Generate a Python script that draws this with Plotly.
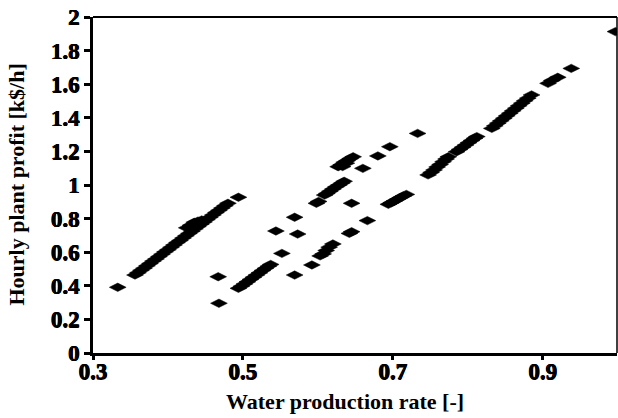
import plotly.graph_objects as go

# Water production rate [-]
water_rate = [
    0.333,
    0.356, 0.360, 0.364, 0.368, 0.372, 0.376, 0.380, 0.384, 0.388, 0.392,
    0.396, 0.400, 0.404, 0.408, 0.412, 0.416, 0.420, 0.424, 0.428, 0.432,
    0.436, 0.440, 0.444, 0.448, 0.452, 0.456, 0.460, 0.464, 0.468, 0.472,
    0.476, 0.480,
    0.425, 0.430, 0.435, 0.440, 0.445, 0.438,
    0.494,
    0.467, 0.468,
    0.494, 0.498, 0.502, 0.506, 0.510, 0.514, 0.518, 0.522, 0.526, 0.530, 0.534, 0.537,
    0.552, 0.544, 0.569, 0.573, 0.569, 0.592,
    0.603, 0.607, 0.611, 0.615, 0.620,
    0.642, 0.645, 0.666,
    0.694, 0.698, 0.702, 0.706, 0.710, 0.714, 0.718,
    0.645,
    0.598, 0.601, 0.609, 0.612, 0.616, 0.620, 0.624, 0.628, 0.632, 0.635,
    0.627, 0.631, 0.635, 0.639, 0.643, 0.647, 0.633, 0.638,
    0.660, 0.680, 0.696, 0.733,
    0.747, 0.751, 0.755, 0.759, 0.763, 0.767, 0.771, 0.774,
    0.785, 0.789, 0.793, 0.797, 0.801, 0.805, 0.809, 0.812,
    0.832, 0.836, 0.840, 0.844, 0.848, 0.852, 0.856, 0.860, 0.864, 0.868,
    0.872, 0.876, 0.880, 0.885,
    0.907, 0.912, 0.920, 0.938, 0.997,
]

# Hourly plant profit [k$/h]
profit = [
    0.391,
    0.464, 0.478, 0.492, 0.505, 0.519, 0.533, 0.547, 0.560, 0.574, 0.588,
    0.602, 0.615, 0.629, 0.643, 0.657, 0.670, 0.684, 0.698, 0.712, 0.725,
    0.739, 0.753, 0.767, 0.780, 0.794, 0.808, 0.822, 0.836, 0.849, 0.863,
    0.877, 0.891,
    0.745, 0.760, 0.778, 0.785, 0.792, 0.770,
    0.927,
    0.454, 0.296,
    0.385, 0.398, 0.411, 0.424, 0.438, 0.451, 0.464, 0.477, 0.491, 0.504, 0.517, 0.527,
    0.593, 0.726, 0.808, 0.708, 0.464, 0.524,
    0.578, 0.590, 0.610, 0.630, 0.649,
    0.712, 0.722, 0.788,
    0.885, 0.895, 0.905, 0.915, 0.925, 0.935, 0.944,
    0.891,
    0.891, 0.902, 0.940, 0.950, 0.963, 0.976, 0.989, 1.000, 1.012, 1.022,
    1.109, 1.120, 1.135, 1.145, 1.157, 1.168, 1.110, 1.130,
    1.099, 1.173, 1.228, 1.307,
    1.060, 1.075, 1.090, 1.107, 1.122, 1.139, 1.155, 1.168,
    1.198, 1.212, 1.225, 1.238, 1.252, 1.265, 1.278, 1.288,
    1.337, 1.352, 1.368, 1.382, 1.397, 1.412, 1.427, 1.442, 1.457, 1.472,
    1.487, 1.502, 1.517, 1.536,
    1.605, 1.622, 1.641, 1.694, 1.913,
]

x_ticks = [0.3, 0.5, 0.7, 0.9]
x_tick_labels = ["0.3", "0.5", "0.7", "0.9"]
y_ticks = [0, 0.2, 0.4, 0.6, 0.8, 1.0, 1.2, 1.4, 1.6, 1.8, 2.0]
y_tick_labels = ["0", "0.2", "0.4", "0.6", "0.8", "1", "1.2", "1.4", "1.6", "1.8", "2"]

FONT = "Liberation Serif"
HEAVY = "0.45px 0 0 black, -0.45px 0 0 black, 0 0.3px 0 black"

fig = go.Figure()
fig.add_trace(go.Scatter(
    x=water_rate, y=profit, mode="markers",
    marker=dict(symbol="diamond-wide", size=12, color="black",
                line=dict(width=0.5, color="black")),
    showlegend=False,
))

fig.update_layout(
    width=618, height=418,
    margin=dict(l=93, r=1, t=17, b=65),
    paper_bgcolor="white", plot_bgcolor="white",
    font=dict(family=FONT, color="black"),
    xaxis=dict(
        range=[0.3, 0.999], tickvals=x_ticks,
        ticktext=["<b>%s</b>" % t for t in x_tick_labels],
        showgrid=False, zeroline=False,
        showline=True, linecolor="black", linewidth=2.5,
        ticks="outside", ticklen=4, tickwidth=2.5, tickcolor="black",
        ticklabelstandoff=-8,
        tickfont=dict(family=FONT, size=23, color="black", weight="bold",
                      shadow=HEAVY),
    ),
    yaxis=dict(
        range=[0, 2], tickvals=y_ticks,
        ticktext=["<b>%s</b>" % t for t in y_tick_labels],
        showgrid=False, zeroline=False,
        showline=True, linecolor="black", linewidth=2.5,
        ticks="outside", ticklen=6, tickwidth=2.5, tickcolor="black",
        tickfont=dict(family=FONT, size=23, color="black", weight="bold",
                      shadow=HEAVY),
    ),
    shapes=[
        dict(type="line", xref="paper", yref="paper", x0=0, x1=1, y0=1, y1=1,
             line=dict(color="black", width=2)),
        dict(type="line", xref="paper", yref="paper", x0=1, x1=1, y0=0, y1=1,
             line=dict(color="black", width=1.5)),
    ],
    annotations=[
        dict(text="<b>Water production rate [-]</b>", xref="paper", yref="paper",
             x=0.48, y=0, yshift=-63, xanchor="center", yanchor="bottom",
             showarrow=False, font=dict(family=FONT, size=22, color="black")),
        dict(text="<b>Hourly plant profit [k$/h]</b>", xref="paper", yref="paper",
             x=0, xshift=-92, y=0.5, xanchor="left", yanchor="middle",
             textangle=-90, showarrow=False,
             font=dict(family=FONT, size=22, color="black")),
    ],
)

fig.write_html("out.html")
